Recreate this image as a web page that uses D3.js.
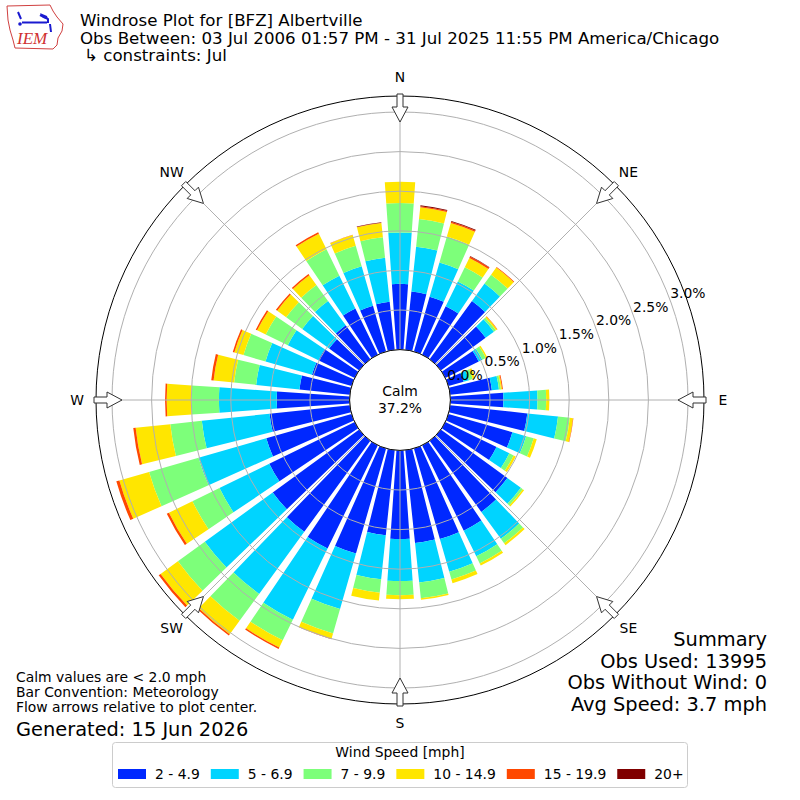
<!DOCTYPE html>
<html><head><meta charset="utf-8">
<script src="https://cdn.jsdelivr.net/npm/d3@7"></script>
<style>
body{margin:0;background:#fff;}
svg{font-family:"DejaVu Sans",sans-serif;}
</style></head>
<body><svg id="chart" width="800" height="800"></svg>
<script>
// ---- data ----
const directions = [0,10,20,30,40,50,60,70,80,90,100,110,120,130,140,150,160,170,180,190,200,210,220,230,240,250,260,270,280,290,300,310,320,330,340,350];
const speedBins = ["2 - 4.9","5 - 6.9","7 - 9.9","10 - 14.9","15 - 19.9","20+"];
const binColors = ["#0028ff","#00d4ff","#7dff7a","#ffe600","#ff4800","#800000"];
// frequency (%) per direction for each speed bin
const s2_49   = [.83,.74,.72,.68,.91,.70,.47,.20,.53,.67,.98,.84,.72,1.04,1.11,1.20,1.19,1.18,1.12,1.08,1.38,1.45,1.42,1.35,1.20,1.12,1.02,.92,.64,.52,.51,.47,.53,.65,.60,.61];
const s5_69   = [.65,.57,.45,.35,.27,.13,.05,.07,.09,.43,.39,.18,.18,.21,.42,.36,.43,.50,.53,.56,.73,1.00,.97,1.06,.70,.89,.86,.73,.55,.61,.43,.42,.38,.46,.52,.56];
const s7_99   = [.37,.35,.34,.20,.14,.03,.05,.05,.025,.11,.15,.10,.06,.03,.07,.10,.10,.20,.18,.17,.32,.29,.42,.42,.38,.65,.40,.35,.28,.29,.31,.25,.25,.37,.27,.26];
const s10_149 = [.27,.15,.18,.13,.11,.02,.02,.03,.015,.04,.04,.04,.03,.02,.03,.03,.05,.02,.05,.10,.07,.10,.21,.27,.33,.39,.44,.31,.26,.12,.12,.14,.15,.22,.14,.18];
const s15_199 = [0,.015,.015,.02,.01,.005,0,0,.01,0,.005,0,0,0,0,0,0,0,0,0,.005,.02,.02,.03,.03,.04,.03,.02,.03,.02,.02,.02,.02,.02,.005,.005];
const s20p    = [0,.01,.01,.005,0,0,0,0,0,0,0,0,0,0,0,0,0,0,0,0,0,0,0,0,0,0,0,0,0,0,0,0,0,0,0,.005];
const series = [s2_49,s5_69,s7_99,s10_149,s15_199,s20p];
const ringTicks = [0,0.5,1.0,1.5,2.0,2.5,3.0];
const compass = [["N",0],["NE",45],["E",90],["SE",135],["S",180],["SW",225],["W",270],["NW",315]];
const calmPct = "37.2%";
const titleLines = ["Windrose Plot for [BFZ] Albertville","Obs Between: 03 Jul 2006 01:57 PM - 31 Jul 2025 11:55 PM America/Chicago","\u21B3 constraints: Jul"];
const leftNotes = ["Calm values are < 2.0 mph","Bar Convention: Meteorology","Flow arrows relative to plot center."];
const generated = "Generated: 15 Jun 2026";
const summary = ["Summary","Obs Used: 13995","Obs Without Wind: 0","Avg Speed: 3.7 mph"];

// ---- drawing ----
const FS = 13.9, FL = 19.4, FT = 16.67;
const svg = d3.select("#chart");
const cx = 400, cy = 400;
const r = d3.scaleLinear().domain([0,3.0]).range([50.4,288]);
const outerR = 304;
const rad = d => d*Math.PI/180;
const g = svg.append("g").attr("transform",`translate(${cx},${cy})`);

g.append("circle").attr("r",outerR).attr("fill","none").attr("stroke","#000").attr("stroke-width",1);

// bars
const halfW = 4;
directions.forEach((d,i)=>{
  let cum = 0;
  series.forEach((s,k)=>{
    const v = s[i];
    if (v<=0) return;
    const a = d3.arc().innerRadius(r(cum)).outerRadius(r(cum+v))
      .startAngle(rad(d-halfW)).endAngle(rad(d+halfW));
    g.append("path").attr("d",a()).attr("fill",binColors[k]);
    cum += v;
  });
});

// grid rings
ringTicks.forEach(t=>{
  g.append("circle").attr("r",r(t)).attr("fill","none").attr("stroke","#b0b0b0").attr("stroke-width",1);
});
compass.forEach(([lab,d])=>{
  g.append("line")
    .attr("x1",r(0)*Math.sin(rad(d))).attr("y1",-r(0)*Math.cos(rad(d)))
    .attr("x2",outerR*Math.sin(rad(d))).attr("y2",-outerR*Math.cos(rad(d)))
    .attr("stroke","#b0b0b0").attr("stroke-width",1);
});

// calm circle
g.append("circle").attr("r",r(0)).attr("fill","#fff").attr("stroke","#000").attr("stroke-width",1);
g.append("text").attr("x",0).attr("y",-4).attr("text-anchor","middle").attr("font-size",FS).text("Calm");
g.append("text").attr("x",0).attr("y",13).attr("text-anchor","middle").attr("font-size",FS).text(calmPct);

// ring labels
const la = rad(69.8);
ringTicks.forEach(t=>{
  const rr = r(t);
  g.append("text").attr("x",rr*Math.sin(la)).attr("y",-rr*Math.cos(la)-2.5)
    .attr("font-size",FS).text(t.toFixed(1)+"%");
});

// arrows and compass labels
const arrowPts = [[306,-3],[293,-3],[293,-8],[278,0],[293,8],[293,3],[306,3]];
compass.forEach(([lab,d])=>{
  const a = rad(d);
  const pts = arrowPts.map(([rr,w])=>[rr*Math.sin(a)+w*Math.cos(a), -rr*Math.cos(a)+w*Math.sin(a)]);
  g.append("path").attr("d","M"+pts.map(p=>p.join(",")).join("L")+"Z")
    .attr("fill","#fff").attr("stroke","#333").attr("stroke-width",1);
  const lr = 323;
  g.append("text").attr("x",lr*Math.sin(a)).attr("y",-lr*Math.cos(a)+5)
    .attr("text-anchor","middle").attr("font-size",FS).text(lab);
});

// title
titleLines.forEach((t,i)=>{
  svg.append("text").attr("x", i===2?84:80).attr("y",26+i*17.5).attr("font-size",FT).text(t);
});

// logo
const logo = svg.append("g");
logo.append("path").attr("d","M7,6 L50,5 L53,11 L57,17 L63,24 L62,31 L58,38 L57,45 L53,49 L15,48 L13,40 L10,30 L8,20 Z")
  .attr("fill","none").attr("stroke","#d04040").attr("stroke-width",1);
logo.append("path").attr("d","M22,22.5 L47,22.5 M18,12 L21,19 M40,15 L48,19 L48,23 M50,24 L51,32")
  .attr("fill","none").attr("stroke","#1a1ad0").attr("stroke-width",2);
logo.append("path").attr("d","M40,13 L47,16 L48,19 L43,18 Z").attr("fill","#1a1ad0");
logo.append("circle").attr("cx",20).attr("cy",24).attr("r",1.8).attr("fill","#1a1ad0");
logo.append("text").attr("x",17).attr("y",44).attr("font-family","'Liberation Serif',serif")
  .attr("font-style","italic").attr("font-size",17).attr("fill","#d03030").text("IEM");

// left notes
leftNotes.forEach((t,i)=>{
  svg.append("text").attr("x",16).attr("y",682+i*15).attr("font-size",FS).text(t);
});
svg.append("text").attr("x",16).attr("y",736).attr("font-size",FL).text(generated);

// summary
summary.forEach((t,i)=>{
  svg.append("text").attr("x",767).attr("y",646+i*21.5).attr("text-anchor","end").attr("font-size",FL).text(t);
});

// legend
const lg = svg.append("g");
lg.append("rect").attr("x",112.5).attr("y",742.5).attr("width",575).attr("height",45).attr("rx",3)
  .attr("fill","#fff").attr("stroke","#ccc").attr("stroke-width",1);
lg.append("text").attr("x",400).attr("y",757).attr("text-anchor","middle").attr("font-size",FS).text("Wind Speed [mph]");
let lx = 118;
speedBins.forEach((b,k)=>{
  lg.append("rect").attr("x",lx).attr("y",769).attr("width",28).attr("height",10).attr("fill",binColors[k]);
  const tx = lg.append("text").attr("x",lx+37).attr("y",779).attr("font-size",FS).text(b);
  lx += 37 + tx.node().getComputedTextLength() + 11;
});
</script></body></html>
